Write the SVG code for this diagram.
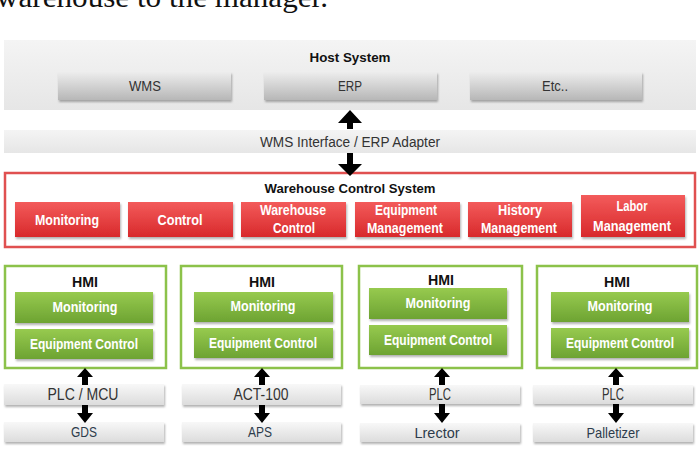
<svg xmlns="http://www.w3.org/2000/svg" width="700" height="450" viewBox="0 0 700 450">
<defs>
<linearGradient id="gPanel" x1="0" y1="0" x2="0" y2="1"><stop offset="0" stop-color="#f4f4f4"/><stop offset="1" stop-color="#e6e6e6"/></linearGradient>
<linearGradient id="gGray" x1="0" y1="0" x2="0" y2="1"><stop offset="0" stop-color="#ededed"/><stop offset="1" stop-color="#b7b7b7"/></linearGradient>
<linearGradient id="gBar" x1="0" y1="0" x2="0" y2="1"><stop offset="0" stop-color="#f8f8f8"/><stop offset="1" stop-color="#dcdcdc"/></linearGradient>
<linearGradient id="gRed" x1="0" y1="0" x2="0" y2="1"><stop offset="0" stop-color="#f35b5b"/><stop offset="1" stop-color="#d8292b"/></linearGradient>
<linearGradient id="gGreen" x1="0" y1="0" x2="0" y2="1"><stop offset="0" stop-color="#97ca4f"/><stop offset="1" stop-color="#6da332"/></linearGradient>
<filter id="sh" x="-10%" y="-20%" width="120%" height="150%"><feDropShadow dx="1" dy="2" stdDeviation="1.3" flood-color="#000" flood-opacity="0.3"/></filter>
</defs>
<style>
text{font-family:"Liberation Sans",Arial,sans-serif;text-anchor:middle}
.cap{font-family:"Liberation Serif","Times New Roman",serif;font-size:30px;fill:#111;text-anchor:start}
.ttl{font-size:13px;font-weight:bold;fill:#111}
.gl{font-size:14px;fill:#333}
.rl{font-size:14px;font-weight:bold;fill:#fff}
.gr{font-size:14px;font-weight:bold;fill:#fff}
.hmi{font-size:14px;font-weight:bold;fill:#111}
.bl{font-size:16px;fill:#333}
.bl2{font-size:15px;fill:#2d3c4c}
.panel{fill:url(#gPanel)}
.gray{fill:url(#gGray);filter:url(#sh)}
.bar{fill:url(#gBar);filter:url(#sh)}
.red{fill:url(#gRed);filter:url(#sh)}
.green{fill:url(#gGreen);filter:url(#sh)}
.wcs{fill:#fff;stroke:#e05050;stroke-width:2.5}
.hmib{fill:#fff;stroke:#8cc24a;stroke-width:2.5}
.arr{fill:#000}
</style>
<rect width="700" height="450" fill="#fff"/>
<text class="cap" x="-4" y="7" textLength="332" lengthAdjust="spacingAndGlyphs">warehouse to the manager.</text>

<g id="host">
<rect class="panel" x="4" y="40" width="692" height="70"/>
<text class="ttl" x="350" y="62" textLength="81" lengthAdjust="spacingAndGlyphs">Host System</text>
</g>
<g id="wms"><rect class="gray" x="58" y="72" width="173" height="28"/><text class="gl" x="145" y="91" textLength="32" lengthAdjust="spacingAndGlyphs">WMS</text></g>
<g id="erp"><rect class="gray" x="264" y="72" width="173" height="28"/><text class="gl" x="350" y="91" textLength="24" lengthAdjust="spacingAndGlyphs">ERP</text></g>
<g id="etc"><rect class="gray" x="470" y="72" width="172" height="28"/><text class="gl" x="555" y="91" textLength="26" lengthAdjust="spacingAndGlyphs">Etc..</text></g>

<g id="interface">
<rect class="panel" x="4" y="130" width="692" height="23"/>
<text class="gl" x="350" y="147" textLength="180" lengthAdjust="spacingAndGlyphs">WMS Interface / ERP Adapter</text>
</g>

<g id="wcs">
<rect class="wcs" x="5" y="173" width="690" height="74"/>
<text class="ttl" x="350" y="193" textLength="171" lengthAdjust="spacingAndGlyphs">Warehouse Control System</text>
</g>
<g id="wcs-monitoring"><rect class="red" x="15" y="202" width="105" height="35"/><text class="rl" x="67" y="225" textLength="64" lengthAdjust="spacingAndGlyphs">Monitoring</text></g>
<g id="wcs-control"><rect class="red" x="128" y="202" width="105" height="35"/><text class="rl" x="180" y="225" textLength="45" lengthAdjust="spacingAndGlyphs">Control</text></g>
<g id="wcs-warehouse"><rect class="red" x="241" y="202" width="105" height="35"/><text class="rl" x="293" y="215" textLength="66" lengthAdjust="spacingAndGlyphs">Warehouse</text><text class="rl" x="294" y="233" textLength="42" lengthAdjust="spacingAndGlyphs">Control</text></g>
<g id="wcs-equipment"><rect class="red" x="355" y="202" width="105" height="35"/><text class="rl" x="406" y="215" textLength="62" lengthAdjust="spacingAndGlyphs">Equipment</text><text class="rl" x="405" y="233" textLength="76" lengthAdjust="spacingAndGlyphs">Management</text></g>
<g id="wcs-history"><rect class="red" x="468" y="202" width="104" height="35"/><text class="rl" x="520" y="215" textLength="44" lengthAdjust="spacingAndGlyphs">History</text><text class="rl" x="519" y="233" textLength="76" lengthAdjust="spacingAndGlyphs">Management</text></g>
<g id="wcs-labor"><rect class="red" x="581" y="195" width="104" height="42"/><text class="rl" x="632" y="211" textLength="31" lengthAdjust="spacingAndGlyphs">Labor</text><text class="rl" x="632" y="231" textLength="78" lengthAdjust="spacingAndGlyphs">Management</text></g>

<g id="hmi1">
<rect class="hmib" x="5" y="266" width="161" height="102"/>
<text class="hmi" x="85" y="287" textLength="26" lengthAdjust="spacingAndGlyphs">HMI</text>
<rect class="green" x="15" y="292" width="138" height="31"/><text class="gr" x="85" y="312" textLength="65" lengthAdjust="spacingAndGlyphs">Monitoring</text>
<rect class="green" x="15" y="329" width="138" height="30"/><text class="gr" x="84" y="349" textLength="108" lengthAdjust="spacingAndGlyphs">Equipment Control</text>
</g>
<g id="hmi2">
<rect class="hmib" x="181" y="266" width="161" height="102"/>
<text class="hmi" x="262" y="287" textLength="26" lengthAdjust="spacingAndGlyphs">HMI</text>
<rect class="green" x="194" y="292" width="139" height="30"/><text class="gr" x="263" y="311" textLength="65" lengthAdjust="spacingAndGlyphs">Monitoring</text>
<rect class="green" x="194" y="328" width="139" height="30"/><text class="gr" x="263" y="348" textLength="108" lengthAdjust="spacingAndGlyphs">Equipment Control</text>
</g>
<g id="hmi3">
<rect class="hmib" x="359" y="266" width="163" height="102"/>
<text class="hmi" x="441" y="285" textLength="26" lengthAdjust="spacingAndGlyphs">HMI</text>
<rect class="green" x="369" y="288" width="138" height="31"/><text class="gr" x="438" y="308" textLength="65" lengthAdjust="spacingAndGlyphs">Monitoring</text>
<rect class="green" x="369" y="325" width="138" height="30"/><text class="gr" x="438" y="345" textLength="108" lengthAdjust="spacingAndGlyphs">Equipment Control</text>
</g>
<g id="hmi4">
<rect class="hmib" x="537" y="266" width="160" height="102"/>
<text class="hmi" x="617" y="287" textLength="26" lengthAdjust="spacingAndGlyphs">HMI</text>
<rect class="green" x="551" y="292" width="138" height="30"/><text class="gr" x="620" y="311" textLength="65" lengthAdjust="spacingAndGlyphs">Monitoring</text>
<rect class="green" x="551" y="328" width="138" height="30"/><text class="gr" x="620" y="348" textLength="108" lengthAdjust="spacingAndGlyphs">Equipment Control</text>
</g>

<g id="plc-mcu"><rect class="bar" x="4" y="384" width="160" height="21"/><text class="bl" x="83" y="400" textLength="71" lengthAdjust="spacingAndGlyphs">PLC / MCU</text></g>
<g id="gds"><rect class="bar" x="4" y="422" width="160" height="20"/><text class="bl2" x="84" y="437" textLength="26" lengthAdjust="spacingAndGlyphs">GDS</text></g>
<g id="act100"><rect class="bar" x="182" y="384" width="159" height="21"/><text class="bl" x="261" y="400" textLength="55" lengthAdjust="spacingAndGlyphs">ACT-100</text></g>
<g id="aps"><rect class="bar" x="182" y="422" width="159" height="20"/><text class="bl2" x="260" y="437" textLength="24" lengthAdjust="spacingAndGlyphs">APS</text></g>
<g id="plc3"><rect class="bar" x="360" y="385" width="160" height="19"/><text class="bl" x="440" y="400" textLength="22" lengthAdjust="spacingAndGlyphs">PLC</text></g>
<g id="lrector"><rect class="bar" x="360" y="423" width="160" height="19"/><text class="bl2" x="437" y="438" textLength="45" lengthAdjust="spacingAndGlyphs">Lrector</text></g>
<g id="plc4"><rect class="bar" x="533" y="385" width="160" height="19"/><text class="bl" x="613" y="400" textLength="22" lengthAdjust="spacingAndGlyphs">PLC</text></g>
<g id="palletizer"><rect class="bar" x="533" y="423" width="160" height="19"/><text class="bl2" x="613" y="438" textLength="53" lengthAdjust="spacingAndGlyphs">Palletizer</text></g>

<g id="connectors">
<path class="arr" d="M350,110 L362,123 L353,123 L353,129 L347,129 L347,123 L338,123 Z"/>
<path class="arr" d="M347,153 L353,153 L353,164 L362,164 L350,176 L338,164 L347,164 Z"/>
<path class="arr" d="M85,368 L93,377 L88,377 L88,385 L82,385 L82,377 L77,377 Z"/>
<path class="arr" d="M82,405 L88,405 L88,413 L93,413 L85,423 L77,413 L82,413 Z"/>
<path class="arr" d="M262,368 L270,377 L265,377 L265,385 L259,385 L259,377 L254,377 Z"/>
<path class="arr" d="M259,405 L265,405 L265,413 L270,413 L262,423 L254,413 L259,413 Z"/>
<path class="arr" d="M442,368 L450,377 L445,377 L445,385 L439,385 L439,377 L434,377 Z"/>
<path class="arr" d="M439,404 L445,404 L445,413 L450,413 L442,423 L434,413 L439,413 Z"/>
<path class="arr" d="M616,368 L624,377 L619,377 L619,385 L613,385 L613,377 L608,377 Z"/>
<path class="arr" d="M613,404 L619,404 L619,413 L624,413 L616,423 L608,413 L613,413 Z"/>
</g>
</svg>
